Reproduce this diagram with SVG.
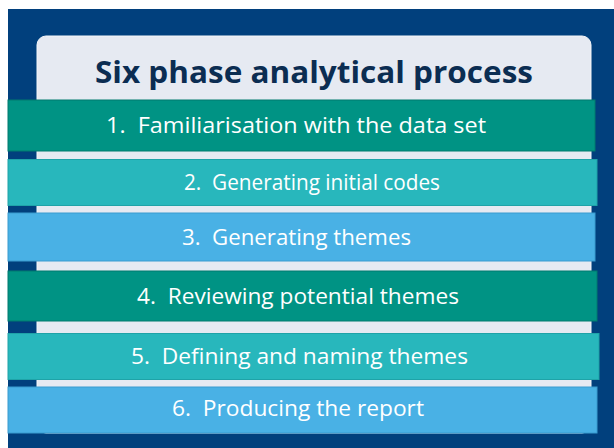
<svg xmlns="http://www.w3.org/2000/svg" width="614" height="448" viewBox="0 0 614 448">
  <style>
    .band-text { font-family: "Open Sans", "Noto Sans", "Liberation Sans", sans-serif; font-size: 21px; fill: #ffffff; white-space: pre; }
    .title { font-family: "Open Sans", "Noto Sans", "Liberation Sans", sans-serif; font-size: 30px; font-weight: 700; fill: #0b2d52; }
    .teal-dark { fill: #009384; stroke: #007a6e; stroke-width: 1; }
    .teal-light { fill: #28b7bc; stroke: #1fa3a8; stroke-width: 1; }
    .sky { fill: #49b1e5; stroke: #3a9bcf; stroke-width: 1; }
  </style>

  <!-- page and backdrop -->
  <rect x="0" y="0" width="614" height="448" fill="#ffffff"/>
  <rect x="8" y="9" width="606" height="439" fill="#01407d"/>

  <!-- heading card -->
  <g id="card">
    <rect x="37" y="36" width="554" height="397" rx="9" fill="#e6eaf2" stroke="#f4f6fa" stroke-width="1"/>
    <text class="title" x="95" y="83" textLength="438" lengthAdjust="spacingAndGlyphs">Six phase analytical process</text>
  </g>

  <!-- phases -->
  <g id="phase1">
    <rect class="teal-dark" x="8" y="100" width="587" height="51"/>
    <text class="band-text" x="106" y="133" textLength="380" lengthAdjust="spacingAndGlyphs">1.  Familiarisation with the data set</text>
  </g>
  <g id="phase2">
    <rect class="teal-light" x="8" y="159.5" width="589" height="46"/>
    <text class="band-text" x="184" y="190" textLength="256" lengthAdjust="spacingAndGlyphs">2.  Generating initial codes</text>
  </g>
  <g id="phase3">
    <rect class="sky" x="8" y="213" width="587" height="48"/>
    <text class="band-text" x="182" y="245" textLength="229" lengthAdjust="spacingAndGlyphs">3.  Generating themes</text>
  </g>
  <g id="phase4">
    <rect class="teal-dark" x="8" y="271" width="589" height="50"/>
    <text class="band-text" x="137" y="304" textLength="322" lengthAdjust="spacingAndGlyphs">4.  Reviewing potential themes</text>
  </g>
  <g id="phase5">
    <rect class="teal-light" x="8" y="333.5" width="591" height="46"/>
    <text class="band-text" x="131" y="364" textLength="337" lengthAdjust="spacingAndGlyphs">5.  Defining and naming themes</text>
  </g>
  <g id="phase6">
    <rect class="sky" x="8" y="387" width="589" height="46"/>
    <text class="band-text" x="172" y="416" textLength="252" lengthAdjust="spacingAndGlyphs">6.  Producing the report</text>
  </g>
</svg>
